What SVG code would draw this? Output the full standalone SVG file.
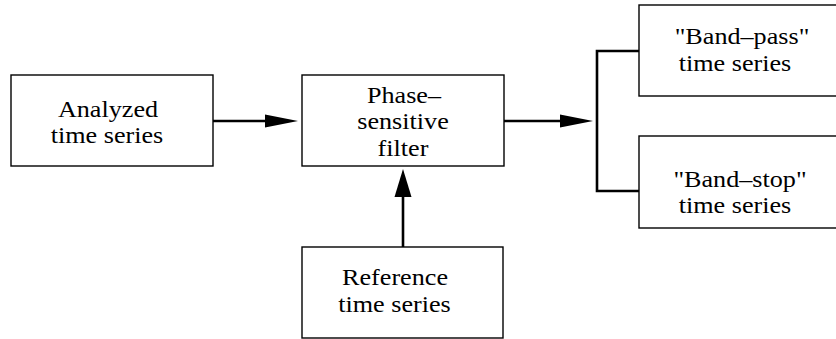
<svg xmlns="http://www.w3.org/2000/svg" width="836" height="339" viewBox="0 0 836 339">
<style>
.box{fill:#fff;stroke:#000;stroke-width:1.4}
.t{font-size:24px;fill:#000;text-anchor:middle}
.ln{fill:none;stroke:#000;stroke-width:2.6}
.hd{fill:#000;stroke:none}
</style>
<rect width="836" height="339" fill="#fff"/>
<g id="connectors">
<line class="ln" x1="213" y1="121" x2="266" y2="121"/>
<polygon class="hd" points="298,121 265,114.5 265,127.5"/>
<line class="ln" x1="504" y1="121" x2="561" y2="121"/>
<polygon class="hd" points="593,121 560,114.5 560,127.5"/>
<line class="ln" x1="403" y1="247" x2="403" y2="196"/>
<polygon class="hd" points="403,169 394.5,197 411.5,197"/>
<polyline class="ln" points="639,51 597,51 597,191 639,191"/>
</g>
<g font-family="Liberation Serif, Times New Roman, serif">
<g id="analyzed">
<rect class="box" x="11" y="75" width="202" height="91"/>
<text class="t" transform="translate(108,116.5) scale(1.09,1)">Analyzed</text>
<text class="t" transform="translate(107,143.2) scale(1.09,1)">time series</text>
</g>
<g id="filter">
<rect class="box" x="302" y="75" width="202" height="91"/>
<text class="t" transform="translate(404,102.5) scale(1.09,1)">Phase–</text>
<text class="t" transform="translate(403,129.2) scale(1.09,1)">sensitive</text>
<text class="t" transform="translate(403,156) scale(1.09,1)">filter</text>
</g>
<g id="reference">
<rect class="box" x="302" y="247" width="201" height="91"/>
<text class="t" transform="translate(395,285) scale(1.09,1)">Reference</text>
<text class="t" transform="translate(394.5,311.7) scale(1.09,1)">time series</text>
</g>
<g id="bandpass">
<rect class="box" x="639" y="5" width="205" height="91"/>
<text class="t" transform="translate(742,43.5) scale(1.09,1)">"Band–pass"</text>
<text class="t" transform="translate(735,71) scale(1.09,1)">time series</text>
</g>
<g id="bandstop">
<rect class="box" x="639" y="136" width="205" height="92"/>
<text class="t" transform="translate(740,186.5) scale(1.09,1)">"Band–stop"</text>
<text class="t" transform="translate(735,213.3) scale(1.09,1)">time series</text>
</g>
</g>
</svg>
